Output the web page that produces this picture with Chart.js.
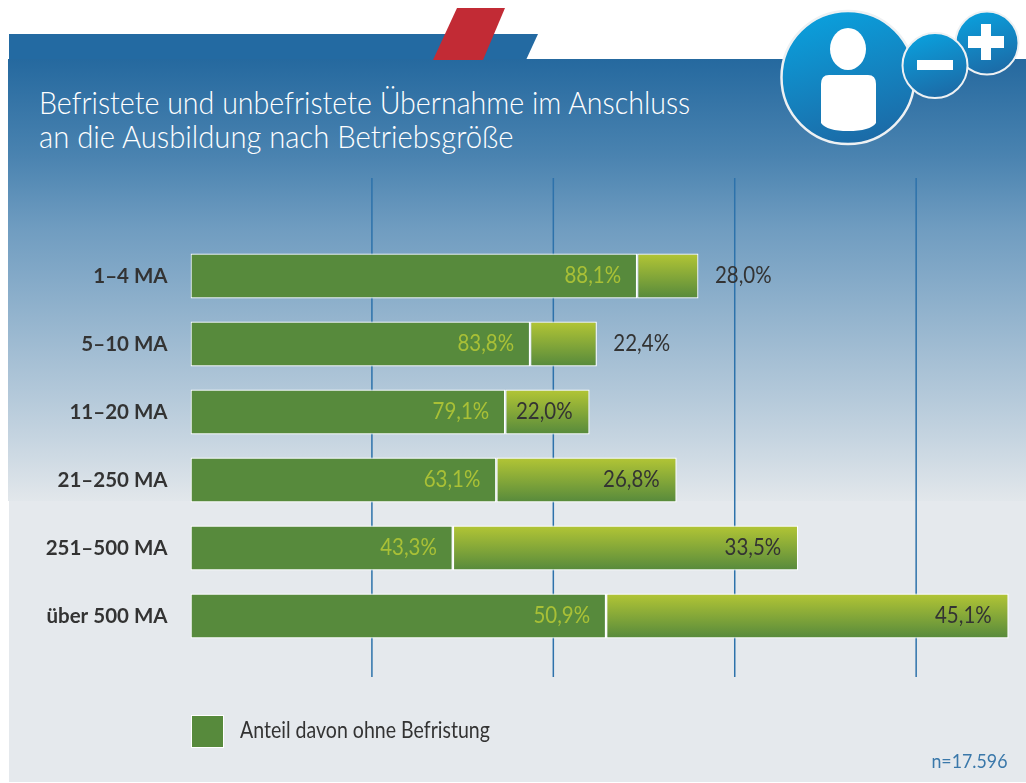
<!DOCTYPE html>
<html lang="de">
<head>
    <meta charset="UTF-8">
    <title>Befristete und unbefristete Übernahme</title>
    <script src="https://cdn.jsdelivr.net/npm/chart.js"></script>
    <style>
        html, body { margin: 0; padding: 0; background: #fff; }
        #page { position: relative; width: 1026px; height: 783px; overflow: hidden; font-family: Lato, sans-serif; }
        #page div, #page svg, #page canvas { position: absolute; }
        #strip { left: 9px; top: 34px; width: 529px; height: 26px; background: #236aa2; clip-path: polygon(0 0, 100% 0, 517px 100%, 0 100%); }
        #red { left: 433px; top: 8px; width: 72px; height: 52px; background: #c22b35; clip-path: polygon(24px 0, 100% 0, 50px 100%, 0 100%); }
        #panelTop { left: 8px; top: 59px; width: 1018px; height: 442px; background: linear-gradient(#25699f 0%, #4a83b0 22%, #6f9cc0 38%, #9ab8d0 62%, #c2d2df 84%, #e2e7eb 100%); }
        #panelBottom { left: 9px; top: 501px; width: 1017px; height: 281px; background: #e5e9ed; }
        .txt { white-space: nowrap; transform-origin: left top; }
        .title { left: 39px; color: #fff; font-size: 32px; font-weight: 300; line-height: 36px; }
        #swatch { left: 190.5px; top: 714.5px; width: 31px; height: 31px; background: #578a3c; border: 1.25px solid #fff; }
        #legendText { left: 239.5px; top: 714px; color: #333; font-size: 23px; line-height: 30px; transform: scaleX(.85); }
        #sample { right: 19px; top: 747px; color: #3a78aa; font-size: 20px; line-height: 26px; transform-origin: right top; transform: scaleX(.89); white-space: nowrap; }
    </style>
</head>
<body>
<div id="page">
    <div id="strip"></div>
    <div id="panelTop"></div>
    <div id="panelBottom"></div>
    <div id="red"></div>
    <div class="txt title" style="top:84px;transform:scaleX(.894)">Befristete und unbefristete Übernahme im Anschluss</div>
    <div class="txt title" style="top:118px;transform:scaleX(.913)">an die Ausbildung nach Betriebsgröße</div>
    <canvas id="myChart" width="1026" height="783" style="left:0;top:0"></canvas>
    <div id="swatch"></div>
    <div class="txt" id="legendText">Anteil davon ohne Befristung</div>
    <div id="sample">n=17.596</div>
    <svg width="1026" height="160" style="left:0;top:0">
        <defs>
            <linearGradient id="blue" x1="0.3" y1="0" x2="0.6" y2="1">
                <stop offset="0" stop-color="#0aa0dd"/>
                <stop offset="1" stop-color="#1c6aa6"/>
            </linearGradient>
        </defs>
        <circle cx="987" cy="43" r="31.5" fill="url(#blue)" stroke="#eef1f3" stroke-width="2"/>
        <rect x="968" y="36" width="36" height="12" fill="#fff"/>
        <rect x="981" y="24" width="10" height="36" fill="#fff"/>
        <circle cx="848" cy="77.5" r="66.5" fill="url(#blue)" stroke="#eef1f3" stroke-width="2.5"/>
        <ellipse cx="848" cy="49" rx="18" ry="21" fill="#fff"/>
        <path d="M829 75 H868 Q876 75 876 84 V123 Q870 131 848 131 Q827 131 821 123 V84 Q821 75 829 75 Z" fill="#fff"/>
        <circle cx="935" cy="65.5" r="32.5" fill="url(#blue)" stroke="#eef1f3" stroke-width="2"/>
        <rect x="917" y="60" width="36" height="10" fill="#fff"/>
    </svg>
</div>

<script>
    const categories = ['1–4 MA', '5–10 MA', '11–20 MA', '21–250 MA', '251–500 MA', 'über 500 MA'];
    // bar segments in percent of all trainees
    const ohneBefristung = [24.62, 18.72, 17.35, 16.86, 14.46, 22.91];
    const mitBefristung = [3.38, 3.68, 4.65, 9.94, 19.04, 22.19];
    // printed labels
    const anteilLabels = ['88,1%', '83,8%', '79,1%', '63,1%', '43,3%', '50,9%'];
    const gesamtLabels = ['28,0%', '22,4%', '22,0%', '26,8%', '33,5%', '45,1%'];
    const gridValues = [10, 20, 30, 40];

    // narrow text, the original face is a condensed one
    function narrowText(ctx, text, x, y, align) {
        const squeeze = 0.89;
        ctx.save();
        ctx.font = '23px Lato, sans-serif';
        ctx.textBaseline = 'middle';
        ctx.textAlign = align;
        ctx.translate(x, y);
        ctx.scale(squeeze, 1);
        ctx.fillText(text, 0, 0);
        ctx.restore();
    }

    const gridPlugin = {
        id: 'longGrid',
        beforeDatasetsDraw(chart) {
            const ctx = chart.ctx;
            ctx.save();
            ctx.strokeStyle = '#2d72ab';
            ctx.lineWidth = 1.5;
            gridValues.forEach(v => {
                const x = chart.scales.x.getPixelForValue(v);
                ctx.beginPath();
                ctx.moveTo(x, 178);
                ctx.lineTo(x, 677);
                ctx.stroke();
            });
            ctx.restore();
        }
    };

    const labelPlugin = {
        id: 'barLabels',
        afterDatasetsDraw(chart) {
            const ctx = chart.ctx;
            const dark = chart.getDatasetMeta(0).data;
            const light = chart.getDatasetMeta(1).data;
            categories.forEach((c, i) => {
                const y = light[i].y;
                ctx.fillStyle = '#a9c036';
                narrowText(ctx, anteilLabels[i], dark[i].x - 16, y, 'right');
                ctx.fillStyle = '#333333';
                // short segments get the label outside
                if (light[i].x - dark[i].x < 70) {
                    narrowText(ctx, gesamtLabels[i], light[i].x + 16.5, y, 'left');
                } else {
                    narrowText(ctx, gesamtLabels[i], light[i].x - 17, y, 'right');
                }
            });
        }
    };

    function lightGradient(context) {
        const chart = context.chart;
        if (!chart.chartArea) return '#7fa43a';
        const yc = chart.scales.y.getPixelForValue(context.dataIndex);
        const g = chart.ctx.createLinearGradient(0, yc - 22, 0, yc + 22);
        g.addColorStop(0, '#b2c535');
        g.addColorStop(1, '#578a3c');
        return g;
    }

    new Chart(document.getElementById('myChart').getContext('2d'), {
        type: 'bar',
        data: {
            labels: categories,
            datasets: [
                { label: 'Anteil davon ohne Befristung', data: ohneBefristung, backgroundColor: '#578a3c' },
                { label: 'mit Befristung', data: mitBefristung, backgroundColor: lightGradient }
            ]
        },
        plugins: [gridPlugin, labelPlugin],
        options: {
            indexAxis: 'y',
            responsive: false,
            animation: false,
            layout: { padding: { top: 242, bottom: 133, right: 1, left: 0 } },
            datasets: {
                bar: { barThickness: 45, borderColor: '#ffffff', borderWidth: 1.25, borderSkipped: false, inflateAmount: 0 }
            },
            plugins: {
                legend: { display: false },
                tooltip: { enabled: false }
            },
            scales: {
                x: { stacked: true, display: false, min: 0, max: 46 },
                y: {
                    stacked: true,
                    afterFit: scale => { scale.width = 190.5; },
                    grid: { display: false, drawTicks: false },
                    border: { display: false },
                    ticks: {
                        padding: 23,
                        color: '#333333',
                        font: { family: 'Lato, sans-serif', size: 20.5, weight: 'bold' }
                    }
                }
            }
        }
    });
</script>
</body>
</html>
